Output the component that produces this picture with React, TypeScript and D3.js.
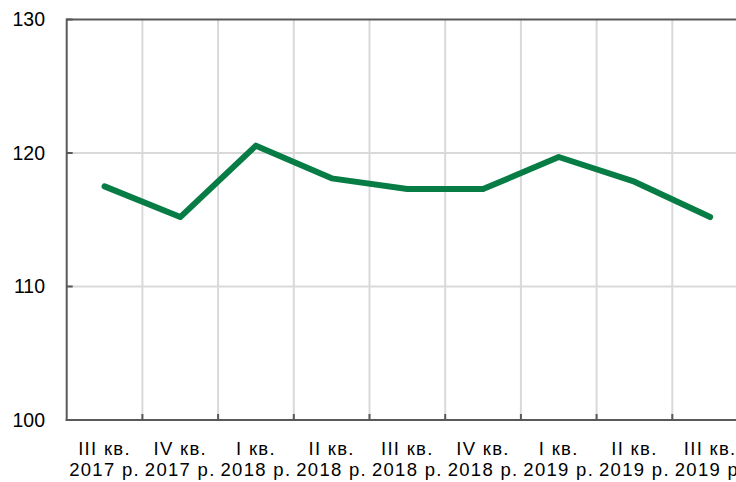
import React from "react";
import * as d3 from "d3";

const categoriesTop = ["III кв.", "IV кв.", "I кв.", "II кв.", "III кв.", "IV кв.", "I кв.", "II кв.", "III кв."];
const categoriesBottom = ["2017 р.", "2017 р.", "2018 р.", "2018 р.", "2018 р.", "2018 р.", "2019 р.", "2019 р.", "2019 р."];
const values = [117.5, 115.2, 120.55, 118.1, 117.3, 117.3, 119.7, 117.85, 115.2];
const yTicks = [100, 110, 120, 130];

export default function App() {
  const W = 736, H = 482;
  const left = 66.7, top = 19.5, bottom = 420;
  const band = 75.7;
  const ids = categoriesTop.map((_, i) => i);
  const x = d3.scaleBand<number>().domain(ids).range([left, left + band * ids.length]).padding(0);
  const y = d3.scaleLinear().domain([100, 130]).range([bottom, top]);
  const line = d3.line<number>().x((_, i) => (x(i) as number) + x.bandwidth() / 2).y((d) => y(d));
  const font = "'Liberation Sans', Arial, sans-serif";
  const right = left + band * ids.length;
  return (
    <svg width={W} height={H} style={{ position: "absolute", left: 0, top: 0, background: "#fff" }}>
      {ids.slice(1).map((i) => (
        <line key={"vg" + i} x1={x(i)} x2={x(i)} y1={top} y2={bottom} stroke="#d9d9d9" strokeWidth={2} />
      ))}
      {yTicks.slice(1, 3).map((t) => (
        <line key={"hg" + t} x1={left} x2={right} y1={y(t)} y2={y(t)} stroke="#d9d9d9" strokeWidth={2} />
      ))}
      <line x1={left} x2={right} y1={y(130)} y2={y(130)} stroke="#595959" strokeWidth={2} />
      <line x1={left} x2={left} y1={top - 1} y2={bottom + 1} stroke="#595959" strokeWidth={2} />
      <line x1={left - 1} x2={right} y1={bottom} y2={bottom} stroke="#595959" strokeWidth={2} />
      {yTicks.map((t) => (
        <line key={"yt" + t} x1={left} x2={left + 6} y1={y(t)} y2={y(t)} stroke="#595959" strokeWidth={2} />
      ))}
      {ids.slice(1).map((i) => (
        <line key={"xt" + i} x1={x(i)} x2={x(i)} y1={bottom} y2={bottom - 6} stroke="#595959" strokeWidth={2} />
      ))}
      {yTicks.map((t) => (
        <text key={"yl" + t} x={45} y={y(t)} dy="0.35em" textAnchor="end" fontFamily={font} fontSize={19.5} fill="#000">
          {t}
        </text>
      ))}
      {ids.map((i) => (
        <g key={"xl" + i}>
          <text x={(x(i) as number) + x.bandwidth() / 2} y={455} textAnchor="middle" fontFamily={font} fontSize={18.5} letterSpacing={1.3} fill="#000">
            {categoriesTop[i]}
          </text>
          <text x={(x(i) as number) + x.bandwidth() / 2} y={476} textAnchor="middle" fontFamily={font} fontSize={18.5} letterSpacing={1.3} fill="#000">
            {categoriesBottom[i]}
          </text>
        </g>
      ))}
      <path d={line(values) || ""} fill="none" stroke="#077c45" strokeWidth={6} strokeLinejoin="round" strokeLinecap="round" />
    </svg>
  );
}
